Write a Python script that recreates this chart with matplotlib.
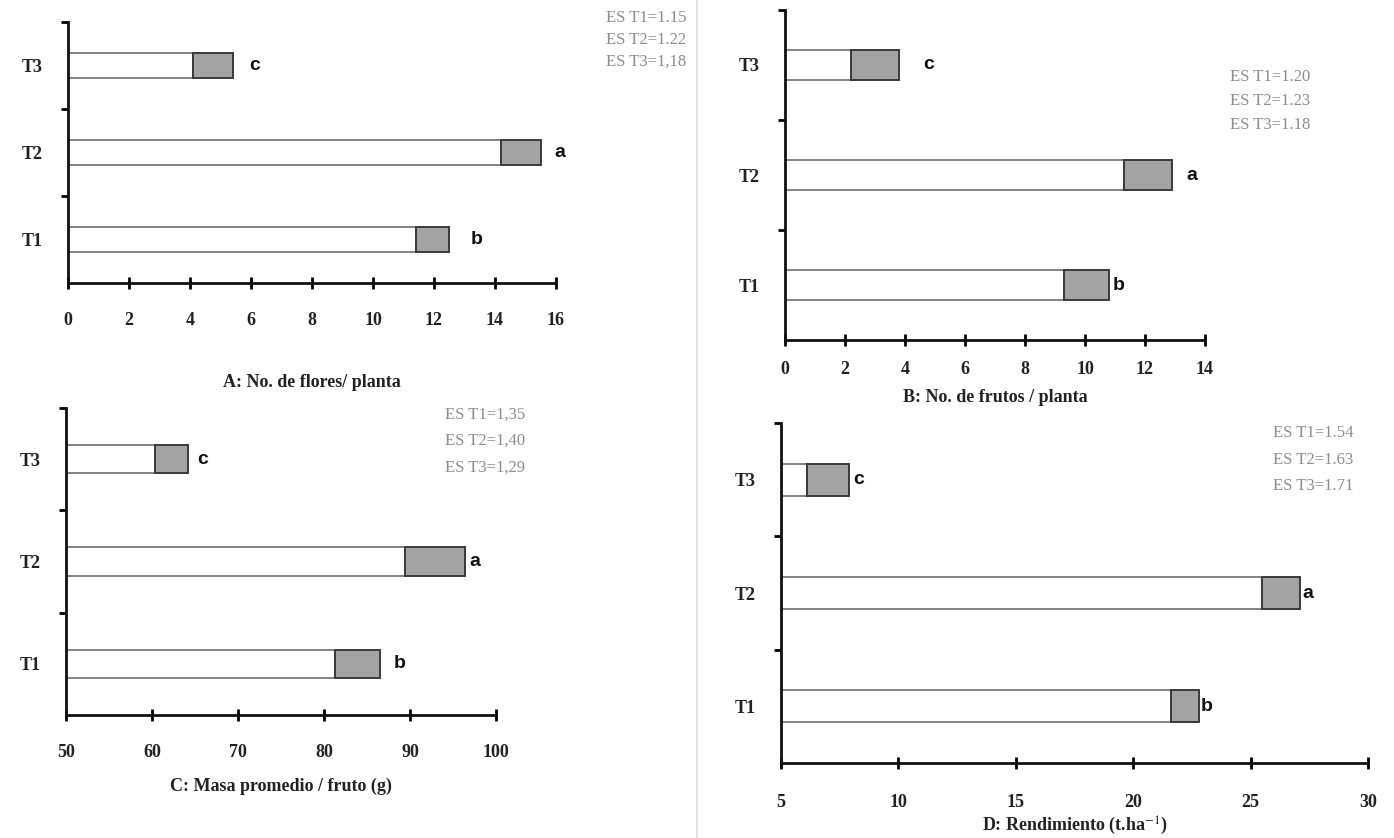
import numpy as np
import matplotlib.pyplot as plt
from matplotlib.lines import Line2D

plt.rcParams['mathtext.fontset'] = 'stix'

# data (order: T1, T2, T3)
trats = ['T1', 'T2', 'T3']
letras = ['b', 'a', 'c']

flores_base = [11.4, 14.2, 4.1]
flores_total = [12.5, 15.5, 5.4]
frutos_base = [9.3, 11.3, 2.2]
frutos_total = [10.8, 12.9, 3.8]
masa_base = [81.3, 89.4, 60.3]
masa_total = [86.5, 96.4, 64.2]
rend_base = [21.6, 25.5, 6.1]
rend_total = [22.8, 27.1, 7.9]

es_A = ['ES T1=1.15', 'ES T2=1.22', 'ES T3=1,18']
es_B = ['ES T1=1.20', 'ES T2=1.23', 'ES T3=1.18']
es_C = ['ES T1=1,35', 'ES T2=1,40', 'ES T3=1,29']
es_D = ['ES T1=1.54', 'ES T2=1.63', 'ES T3=1.71']

W, H = 1394, 838
fig = plt.figure(figsize=(W / 100, H / 100), dpi=100)
fig.patch.set_facecolor('white')

serif = 'Liberation Serif'
sans = 'Liberation Sans'

# faint scan fold
fig.add_artist(Line2D([697 / W, 697 / W], [0, 1], color='#e4e4e4', lw=1.5))

def px_box(left, right, top, bottom):
    return [left / W, 1 - bottom / H, (right - left) / W, (bottom - top) / H]

panels = [
    dict(box=px_box(68, 556, 22, 283), base=flores_base, total=flores_total,
         xlim=(0, 16), xt=np.arange(0, 17, 2), title='A: No. de flores/ planta',
         es=es_A, esx=646, esy=[18, 40, 62], off=[27, 19, 22], pad=17, lpad=32),
    dict(box=px_box(785, 1205, 10, 340), base=frutos_base, total=frutos_total,
         xlim=(0, 14), xt=np.arange(0, 15, 2), title='B: No. de frutos / planta',
         es=es_B, esx=1270, esy=[77, 101, 125], off=[10, 20, 30], pad=11, lpad=8),
    dict(box=px_box(66, 496, 408, 715), base=masa_base, total=masa_total,
         xlim=(50, 100), xt=np.arange(50, 101, 10), title='C: Masa promedio / fruto (g)',
         es=es_C, esx=485, esy=[415, 441, 468], off=[20, 10, 15], pad=17, lpad=12),
    dict(box=px_box(781, 1368, 423, 763), base=rend_base, total=rend_total,
         xlim=(5, 30), xt=np.arange(5, 31, 5), title='D: Rendimiento (t.ha$^{-1}$)',
         es=es_D, esx=1313, esy=[433, 460, 486], off=[8, 8, 10], pad=18, lpad=3),
]

y = np.arange(1, 4)
for p in panels:
    ax = fig.add_axes(p['box'])
    x0 = p['xlim'][0]
    base = np.array(p['base'])
    total = np.array(p['total'])
    ax.barh(y, base - x0, left=x0, height=0.28, color='white',
            edgecolor='#7a7a7a', linewidth=1.3)
    ax.barh(y, total - base, left=base, height=0.28, color='#a3a3a3',
            edgecolor='#3a3a3a', linewidth=1.4)
    for yi, t, l, o in zip(y, total, letras, p['off']):
        ax.annotate(l, (t, yi), xytext=(o * 0.72, 0), textcoords='offset points',
                    ha='center', va='center', fontsize=14, fontweight='bold',
                    family=sans, color='#111111')

    ax.set_xlim(*p['xlim'])
    ax.set_ylim(0.5, 3.5)
    for s in ['top', 'right']:
        ax.spines[s].set_visible(False)
    for s in ['left', 'bottom']:
        ax.spines[s].set_linewidth(2)
        ax.spines[s].set_color('#111111')

    ax.set_xticks(p['xt'])
    ax.set_xticklabels([str(v) for v in p['xt']], family=serif,
                       fontweight='bold', fontsize=13, color='#222222')
    ax.tick_params(axis='x', direction='inout', length=8, width=2, pad=p['pad'])

    ax.set_yticks([1.5, 2.5, 3.5])
    ax.set_yticklabels([])
    ax.tick_params(axis='y', which='major', direction='out', length=5, width=2)
    ax.set_yticks(y, minor=True)
    ax.set_yticklabels(trats, minor=True, family=serif, fontsize=13,
                       fontweight='bold', color='#222222')
    ax.tick_params(axis='y', which='minor', length=0, pad=18)

    ax.set_xlabel(p['title'], family=serif, fontweight='bold', fontsize=13,
                  color='#222222', labelpad=p['lpad'])

    for txt, yy in zip(p['es'], p['esy']):
        fig.text(p['esx'] / W, 1 - yy / H, txt, ha='center', va='center',
                 family=serif, fontsize=12, color='#8c8c8c')

fig.savefig('out.png', dpi=100)
